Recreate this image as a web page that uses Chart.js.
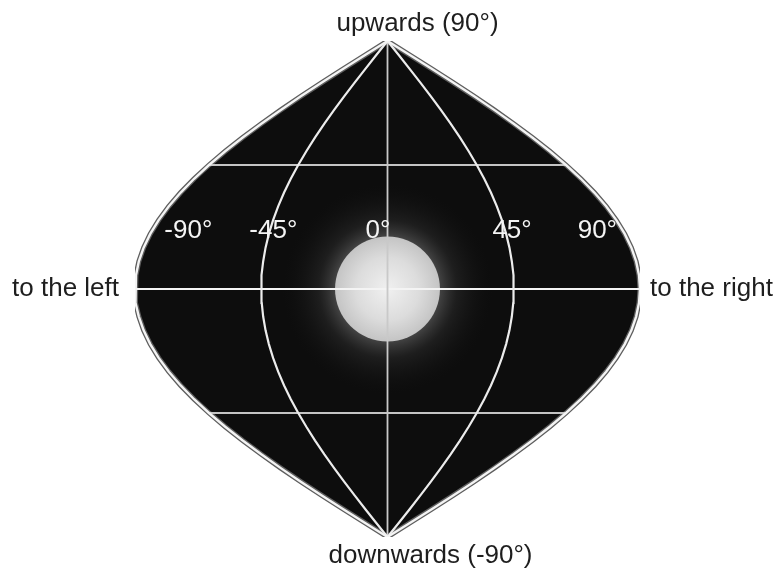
<!DOCTYPE html>
<html>
<head>
<meta charset="utf-8">
<script src="https://cdn.jsdelivr.net/npm/chart.js@4/dist/chart.umd.min.js"></script>
<style>
  html, body { margin: 0; padding: 0; background: #ffffff; }
  #wrap { position: relative; width: 776px; height: 572px; }
</style>
</head>
<body>
<div id="wrap"><canvas id="c"></canvas></div>
<script>
// ---- data (degrees) ----
const latitudes = [-90,-85,-80,-75,-70,-65,-60,-55,-50,-45,-40,-35,-30,-25,-20,-15,-10,-5,0,
                   5,10,15,20,25,30,35,40,45,50,55,60,65,70,75,80,85,90];
const meridians = [-45, 0, 45];          // interior longitude lines
const boundaryLon = 90;                  // outer edge of the field of view
const parallels = [-45, 0, 45];          // latitude lines
const lonLabels = ['-90°', '-45°', '0°', '45°', '90°'];
const lonLabelX = [-71.0, -40.7, -3.4, 44.4, 74.8];
const lonLabelY = 21;
const dirLabels = ['upwards (90°)', 'downwards (-90°)', 'to the left', 'to the right'];
const spot = { lon: 0, lat: 0, radius: 18.7 };   // bright central spot, degrees

// sinusoidal projection of (lon, lat)
function proj(lon, lat) {
  return { x: lon * Math.cos(lat * Math.PI / 180), y: lat };
}

const outline = latitudes.map(l => proj(boundaryLon, l))
  .concat(latitudes.slice().reverse().map(l => proj(-boundaryLon, l)));

const datasets = [];
datasets.push({ label: 'outline-shadow', data: outline, borderColor: '#5e5e5e', borderWidth: 5, order: 10 });
datasets.push({ label: 'outline', data: outline, borderColor: '#f4f4f4', borderWidth: 2.4, order: 1 });
meridians.forEach(m => {
  datasets.push({
    label: 'meridian ' + m,
    data: latitudes.map(l => proj(m, l)),
    borderColor: m === 0 ? '#c9c9c9' : '#ececec',
    borderWidth: m === 0 ? 1.8 : 2.2,
    order: 5
  });
});
parallels.forEach(p => {
  datasets.push({
    label: 'parallel ' + p,
    data: [proj(-boundaryLon, p), proj(boundaryLon, p)],
    borderColor: p === 0 ? '#f4f4f4' : '#c4c4c4',
    borderWidth: 2,
    order: 6
  });
});
datasets.forEach(d => { d.showLine = true; d.pointRadius = 0; d.pointHoverRadius = 0; d.tension = 0; d.fill = false; });

const backdropPlugin = {
  id: 'backdrop',
  beforeDatasetsDraw(chart) {
    const ctx = chart.ctx;
    const pts = chart.getDatasetMeta(0).data;
    ctx.save();
    ctx.beginPath();
    pts.forEach((p, i) => { if (i === 0) ctx.moveTo(p.x, p.y); else ctx.lineTo(p.x, p.y); });
    ctx.closePath();
    ctx.fillStyle = '#0d0d0d';
    ctx.fill();
    ctx.clip();
    const xs = chart.scales.x, ys = chart.scales.y;
    const cx = xs.getPixelForValue(spot.lon), cy = ys.getPixelForValue(spot.lat);
    const r = Math.abs(xs.getPixelForValue(spot.radius) - cx);
    // halo
    let g = ctx.createRadialGradient(cx, cy, r * 0.95, cx, cy, r * 2.0);
    g.addColorStop(0, 'rgba(100,100,100,0.7)');
    g.addColorStop(0.35, 'rgba(55,55,55,0.4)');
    g.addColorStop(1, 'rgba(20,20,20,0)');
    ctx.fillStyle = g;
    ctx.beginPath(); ctx.arc(cx, cy, r * 2.0, 0, Math.PI * 2); ctx.fill();
    // disc
    g = ctx.createRadialGradient(cx, cy, 0, cx, cy, r);
    g.addColorStop(0, '#f0f0f0');
    g.addColorStop(0.6, '#dcdcdc');
    g.addColorStop(1, '#c4c4c4');
    ctx.fillStyle = g;
    ctx.beginPath(); ctx.arc(cx, cy, r, 0, Math.PI * 2); ctx.fill();
    ctx.restore();
  },
  afterDatasetsDraw(chart) {
    const ctx = chart.ctx;
    const xs = chart.scales.x, ys = chart.scales.y;
    ctx.save();
    ctx.font = '26px "Liberation Sans", Arial, sans-serif';
    ctx.fillStyle = '#f4f4f4';
    ctx.textAlign = 'center';
    ctx.textBaseline = 'middle';
    lonLabels.forEach((t, i) => {
      ctx.fillText(t, xs.getPixelForValue(lonLabelX[i]), ys.getPixelForValue(lonLabelY));
    });
    // direction labels
    ctx.fillStyle = '#1e1e1e';
    ctx.font = '26px "Liberation Sans", Arial, sans-serif';
    const a = chart.chartArea;
    const cx = xs.getPixelForValue(0), cy = ys.getPixelForValue(0);
    ctx.textAlign = 'center';
    ctx.fillText(dirLabels[0], cx + 30, a.top - 17);
    ctx.fillText(dirLabels[1], cx + 43, a.bottom + 19);
    ctx.textAlign = 'right';
    ctx.fillText(dirLabels[2], a.left - 16, cy);
    ctx.textAlign = 'left';
    ctx.fillText(dirLabels[3], a.right + 10, cy);
    ctx.restore();
  }
};

new Chart(document.getElementById('c'), {
  type: 'scatter',
  data: { datasets },
  options: {
    responsive: true,
    maintainAspectRatio: false,
    animation: false,
    layout: { padding: { left: 135, right: 136, top: 41, bottom: 35 } },
    scales: {
      x: { type: 'linear', min: -90, max: 90, display: false },
      y: { type: 'linear', min: -90, max: 90, display: false }
    },
    plugins: { legend: { display: false }, tooltip: { enabled: false } }
  },
  plugins: [backdropPlugin]
});
</script>
</body>
</html>
